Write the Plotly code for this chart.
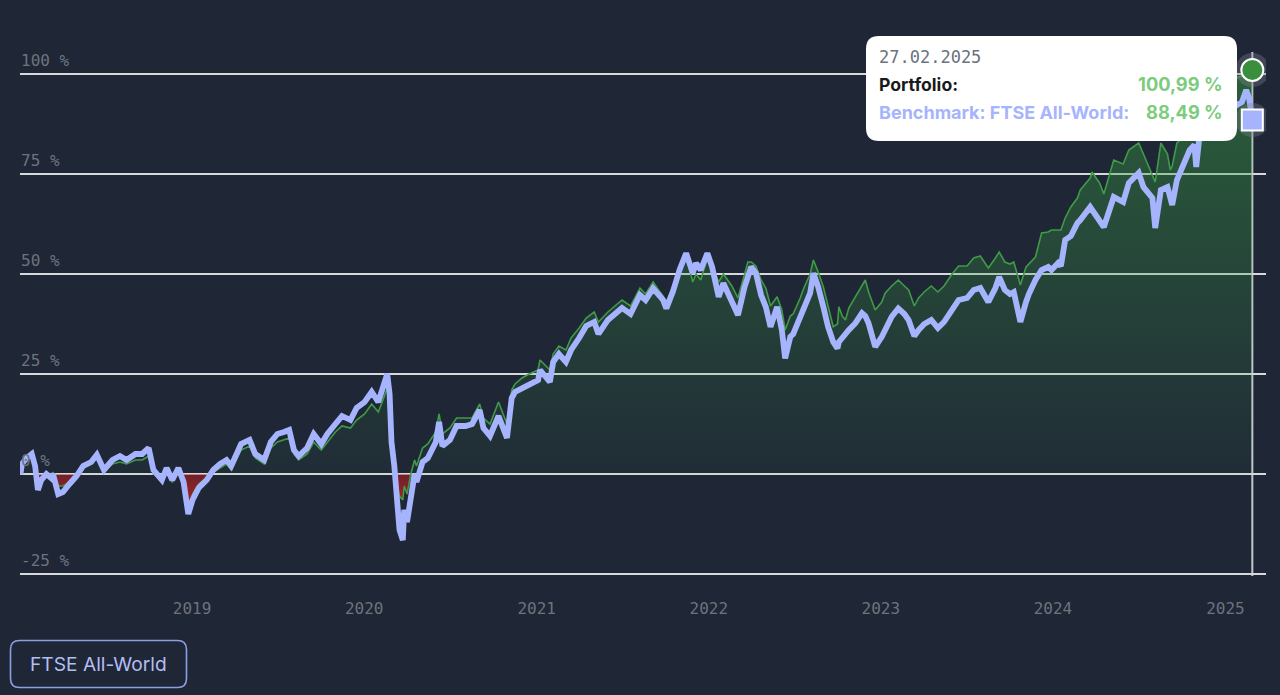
import datetime as dt
import plotly.graph_objects as go

# ---------------- data ----------------
dates = [
    "2018-01-02", "2018-01-05", "2018-01-15", "2018-01-26", "2018-02-02", "2018-02-08", "2018-02-15",
    "2018-02-26", "2018-03-08", "2018-03-12", "2018-03-23", "2018-04-02", "2018-04-16", "2018-05-01",
    "2018-05-15", "2018-06-01", "2018-06-13", "2018-06-28", "2018-07-16", "2018-08-01", "2018-08-15",
    "2018-09-03", "2018-09-17", "2018-10-01", "2018-10-11", "2018-10-29", "2018-11-08", "2018-11-20",
    "2018-12-03", "2018-12-14", "2018-12-24",
    "2019-01-02", "2019-01-15", "2019-02-01", "2019-02-15", "2019-03-01", "2019-03-15", "2019-03-25",
    "2019-04-15", "2019-05-03", "2019-05-15", "2019-06-03", "2019-06-17", "2019-07-01", "2019-07-15",
    "2019-07-26", "2019-08-05", "2019-08-15", "2019-09-02", "2019-09-16", "2019-10-02", "2019-10-15",
    "2019-11-01", "2019-11-15", "2019-12-03", "2019-12-16",
    "2020-01-02", "2020-01-17", "2020-01-31", "2020-02-10", "2020-02-19", "2020-02-24", "2020-02-28",
    "2020-03-05", "2020-03-09", "2020-03-12", "2020-03-16", "2020-03-23", "2020-03-26", "2020-04-01",
    "2020-04-09", "2020-04-17", "2020-04-21", "2020-05-04", "2020-05-15", "2020-06-01", "2020-06-08",
    "2020-06-15", "2020-07-01", "2020-07-15", "2020-08-03", "2020-08-17", "2020-09-02", "2020-09-10",
    "2020-09-24", "2020-10-12", "2020-10-30", "2020-11-09", "2020-11-16", "2020-12-01", "2020-12-16",
    "2021-01-04", "2021-01-08", "2021-01-29", "2021-02-05", "2021-02-17", "2021-03-04", "2021-03-15",
    "2021-04-01", "2021-04-16", "2021-05-03", "2021-05-12", "2021-06-01", "2021-06-15", "2021-07-01",
    "2021-07-19", "2021-08-08", "2021-08-20", "2021-09-05", "2021-09-19", "2021-09-26", "2021-10-03",
    "2021-10-17", "2021-10-31", "2021-11-14", "2021-11-28", "2021-12-05", "2021-12-15", "2021-12-29",
    "2022-01-08", "2022-01-22", "2022-02-01", "2022-02-19", "2022-03-04", "2022-03-18", "2022-03-25",
    "2022-04-01", "2022-04-11", "2022-04-22", "2022-05-02", "2022-05-12", "2022-05-26", "2022-06-05",
    "2022-06-12", "2022-06-23", "2022-06-29", "2022-07-14", "2022-07-20", "2022-08-04", "2022-08-11",
    "2022-08-21", "2022-09-01", "2022-09-11", "2022-09-22", "2022-10-01", "2022-10-04", "2022-10-11",
    "2022-10-18", "2022-10-25", "2022-11-08", "2022-11-22", "2022-11-29", "2022-12-06", "2022-12-20",
    "2023-01-03", "2023-01-10", "2023-01-24", "2023-02-07", "2023-02-20", "2023-03-01", "2023-03-13",
    "2023-03-22", "2023-04-03", "2023-04-18", "2023-05-02", "2023-05-15", "2023-06-01", "2023-06-15",
    "2023-07-03", "2023-07-17", "2023-07-31", "2023-08-17", "2023-09-01", "2023-09-09", "2023-09-21",
    "2023-10-02", "2023-10-10", "2023-10-24", "2023-11-05", "2023-11-11", "2023-11-25", "2023-12-08",
    "2023-12-22", "2023-12-29",
    "2024-01-12", "2024-01-18", "2024-01-27", "2024-02-08", "2024-02-22", "2024-02-28", "2024-03-20",
    "2024-03-24", "2024-04-09", "2024-04-18", "2024-05-09", "2024-05-29", "2024-06-10", "2024-07-01",
    "2024-07-11", "2024-07-30", "2024-08-05", "2024-08-17", "2024-08-31", "2024-09-06", "2024-09-10",
    "2024-09-20", "2024-10-02", "2024-10-17", "2024-10-27", "2024-10-31", "2024-11-06", "2024-11-20",
    "2024-12-06", "2024-12-20",
    "2025-01-06", "2025-01-22", "2025-02-05", "2025-02-14", "2025-02-20", "2025-02-27",
]

benchmark = [
    0, 2.5, 4, 5, 2, -4, -1.5,
    0, -1, 0, -5, -4.5, -2.5, -0.5,
    2, 3, 4.8, 1, 3.5, 4.5, 3.5,
    5, 5, 6.5, 1, -1.5, 1.5, -1.5,
    1.5, -2, -10,
    -6.5, -3.5, -1.5, 1, 2.5, 3.5, 2,
    7.5, 8.5, 5, 3.5, 8, 10, 10.5,
    11, 6, 4.5, 6.5, 10, 7.5, 10,
    12.5, 14.5, 13.5, 16.5,
    18, 20.5, 18, 21.5, 25, 20, 8,
    2, -6, -12, -14, -16.5, -9, -12,
    -5, 0, -2, 3, 4, 8, 13,
    7, 8.5, 12, 12, 12.5, 16, 11.5,
    9.5, 14.5, 9, 19, 20.5, 21.5, 22.5,
    23.5, 26, 23, 28, 30, 28, 31,
    34, 37, 38, 35, 38.5, 40, 41.5,
    40, 44.75, 43.5, 46.4, 44.5, 43.5, 41.4,
    45.6, 51, 55.2, 50.2, 52.7, 51, 55.2,
    51.8, 44.3, 47.7, 43.5, 39.75, 46.8, 50,
    51.8, 50.2, 44.75, 41.8, 36.8, 41.8, 36,
    28.9, 34.3, 35, 39.3, 41, 45.2, 50.2,
    46.8, 41.8, 36.8, 33, 31.4, 33, 34.3,
    35, 36, 37.7, 40.2, 39.5, 37.7, 31.8,
    34.3, 36, 39.3, 41.4, 40, 38.5, 34.5,
    36, 37.5, 38.5, 36.5, 38, 41, 43.5,
    44, 46, 46.5, 43, 46.5, 49.25, 46,
    45, 45.5, 38, 43, 45, 48.5, 51,
    51.75, 51,
    52.75, 52, 58.5, 59.5, 62.75, 63.5, 66.75,
    66, 63.5, 61.75, 69.25, 68, 72.75, 75.25,
    71.75, 69, 61.5, 71, 71.75, 68.5, 67.25,
    73.5, 76.75, 81, 82.25, 76.75, 83.5, 85,
    91, 87,
    89, 92, 93, 96, 94, 88.49,
]

portfolio = [
    0, 2, 3.5, 4.5, 2, -2.5, -1,
    0.5, -0.5, 0.5, -3, -3, -2, -0.5,
    1.5, 2.5, 4, 0.5, 2.5, 3, 2.5,
    3.5, 3.5, 4.5, 0, -1.5, 0.5, -2,
    0.5, -2.5, -8,
    -5, -2.5, -1, 0.5, 1.5, 2.5, 1,
    6, 7, 4, 2.5, 6.5, 8, 8.5,
    9, 5, 3.5, 5, 8, 6, 8,
    10.5, 12, 11.5, 13.5,
    15, 17.5, 15.5, 18.5, 21.5, 16.5, 8,
    4, -1, -4, -5.5, -6.5, -3, -5,
    0, 3.5, 2, 6.5, 7.5, 10.5, 15,
    10, 11.5, 14, 14, 14, 17.5, 14,
    12.5, 18, 12.5, 21, 22.5, 24, 25,
    26, 28.5, 26, 30, 32, 31, 34,
    36.5, 39, 40.5, 38, 40.5, 42, 43.5,
    42, 46.5, 45, 48, 45.6, 44.5, 43,
    47, 51.8, 54.75, 48, 50, 48.5, 54,
    52, 48, 50, 47, 44, 50.5, 53,
    53, 52, 48.5, 46.5, 42, 44.3, 41,
    36, 39.5, 40, 44, 46, 50, 53.5,
    50.5, 46.8, 42, 36.8, 37.5, 41.8, 39.5,
    38.5, 41.5, 44.3, 47, 48.5, 45.5, 41,
    43, 45.2, 47, 48.5, 47, 46, 42,
    44, 45.5, 47, 45.5, 47, 50, 52,
    52, 54, 54.5, 51.5, 54, 55.5, 53,
    52.5, 53, 47.25, 51.75, 52.5, 54.25, 60.25,
    60.5, 61,
    61, 61, 64, 66.75, 69, 71, 74,
    75.5, 72.75, 70, 78.5, 77.5, 81, 82.75,
    80, 75, 73, 82.75, 80, 76, 77,
    82.75, 84, 86.5, 88, 84, 90, 92,
    97, 94,
    96, 99, 99.5, 102, 101.5, 100.99,
]

y_ticks = [-25, 0, 25, 50, 75, 100]
y_tick_labels = [f"{v} %" for v in y_ticks]
x_tick_dates = ["2019-01-01", "2020-01-01", "2021-01-01", "2022-01-01",
                "2023-01-01", "2024-01-01", "2025-01-01"]
x_tick_labels = ["2019", "2020", "2021", "2022", "2023", "2024", "2025"]

portfolio_name = "Portfolio"
benchmark_name = "FTSE All-World"

# ---------------- styling ----------------
BG = "#1f2636"
GRID = "#d6d8dc"
TICK_FONT = dict(family="DejaVu Sans Mono", size=16, color="#6e737d")
GREEN_LINE = "#3f9b45"
LAVENDER = "#a5b4fc"
VALUE_GREEN = "#7dcb7d"

hover_date = dates[-1]
hover_p = portfolio[-1]
hover_b = benchmark[-1]


def fmt_pct(v):
    return f"{v:.2f}".replace(".", ",") + " %"


def rounded_rect(w, h, r):
    x0, x1, y0, y1 = -w / 2, w / 2, -h / 2, h / 2
    return (f"M {x0 + r},{y0} L {x1 - r},{y0} Q {x1},{y0} {x1},{y0 + r} "
            f"L {x1},{y1 - r} Q {x1},{y1} {x1 - r},{y1} L {x0 + r},{y1} "
            f"Q {x0},{y1} {x0},{y1 - r} L {x0},{y0 + r} Q {x0},{y0} {x0 + r},{y0} Z")


pos_part = [max(v, 0) for v in portfolio]
neg_part = [min(v, 0) for v in portfolio]

fig = go.Figure()

fig.add_trace(go.Scatter(
    x=dates, y=pos_part, mode="lines", line=dict(width=0, color=GREEN_LINE),
    fill="tozeroy",
    fillgradient=dict(type="vertical", start=0, stop=max(portfolio),
                      colorscale=[[0, "rgba(56,160,64,0.05)"], [1, "rgba(56,160,64,0.47)"]]),
    hoverinfo="skip", showlegend=False))

fig.add_trace(go.Scatter(
    x=dates, y=neg_part, mode="lines", line=dict(width=0, color="#c02424"),
    fill="tozeroy",
    fillgradient=dict(type="vertical", start=min(portfolio), stop=0,
                      colorscale=[[0, "rgba(200,30,30,0.85)"], [1, "rgba(200,30,30,0.45)"]]),
    hoverinfo="skip", showlegend=False))

fig.add_trace(go.Scatter(
    x=dates, y=portfolio, mode="lines", name=portfolio_name,
    line=dict(width=1.6, color=GREEN_LINE), showlegend=False))

fig.add_trace(go.Scatter(
    x=dates, y=benchmark, mode="lines", name="Benchmark: " + benchmark_name,
    line=dict(width=5.8, color=LAVENDER), showlegend=False))

# hover markers (halo + marker)
fig.add_trace(go.Scatter(
    x=[hover_date, hover_date], y=[hover_p, hover_b], mode="markers",
    marker=dict(size=34, color="rgba(130,132,145,0.35)", line=dict(width=0)),
    hoverinfo="skip", showlegend=False))
fig.add_trace(go.Scatter(
    x=[hover_date], y=[hover_p], mode="markers",
    marker=dict(size=22, color="#3a8f3e", symbol="circle", line=dict(width=2, color="white")),
    hoverinfo="skip", showlegend=False))
fig.add_trace(go.Scatter(
    x=[hover_date], y=[hover_b], mode="markers",
    marker=dict(size=21, color=LAVENDER, symbol="square", line=dict(width=2, color="white")),
    hoverinfo="skip", showlegend=False))

# geometry of plot area (pixels): 4 px per percentage point, 0 % at y=474
W, H = 1280, 695
L, R, T, B = 20, 14, 40, 119
PW, PH = W - L - R, H - T - B
Y_MIN, Y_MAX = -25.5, 108.5


def px_to_paper(px, py):
    return (px - L) / PW, (H - B - py) / PH


shapes = []
# hover spike line (beneath the fill)
_, spike_top = px_to_paper(0, 52)
shapes.append(dict(type="line", xref="x", yref="paper", x0=hover_date, x1=hover_date,
                   y0=0, y1=spike_top, line=dict(color="rgba(225,228,232,0.85)", width=2),
                   layer="below"))

# tooltip box
tx, ty = px_to_paper(1051.5, 88.5)
shapes.append(dict(type="path", xref="paper", yref="paper", xsizemode="pixel", ysizemode="pixel",
                   xanchor=tx, yanchor=ty, path=rounded_rect(371, 105, 13),
                   fillcolor="white", line=dict(width=0), layer="above"))

# button box
bx, by = px_to_paper(98.5, 664)
shapes.append(dict(type="path", xref="paper", yref="paper", xsizemode="pixel", ysizemode="pixel",
                   xanchor=bx, yanchor=by, path=rounded_rect(176, 47, 9),
                   fillcolor="rgba(0,0,0,0)", line=dict(width=1.6, color="#8d9de6"), layer="above"))

annotations = []
lx, _ = px_to_paper(877, 0)
rx, _ = px_to_paper(1225, 0)
_, y_date = px_to_paper(0, 57)
_, y_port = px_to_paper(0, 84)
_, y_bench = px_to_paper(0, 112)
date_label = dt.datetime.strptime(hover_date, "%Y-%m-%d").strftime("%d.%m.%Y")

annotations.append(dict(text=date_label, x=lx, y=y_date, xref="paper", yref="paper",
                        xanchor="left", yanchor="middle", showarrow=False,
                        font=dict(family="DejaVu Sans Mono", size=17, color="#6b7280")))
annotations.append(dict(text=f"<b>{portfolio_name}:</b>", x=lx, y=y_port, xref="paper", yref="paper",
                        xanchor="left", yanchor="middle", showarrow=False,
                        font=dict(family="Inter", size=17.6, color="#1a1a1a")))
annotations.append(dict(text=f"<b>{fmt_pct(hover_p)}</b>", x=rx, y=y_port, xref="paper", yref="paper",
                        xanchor="right", yanchor="middle", showarrow=False,
                        font=dict(family="Inter", size=18.3, color=VALUE_GREEN)))
annotations.append(dict(text=f"<b>Benchmark: {benchmark_name}:</b>", x=lx, y=y_bench, xref="paper",
                        yref="paper", xanchor="left", yanchor="middle", showarrow=False,
                        font=dict(family="Inter", size=18, color=LAVENDER)))
annotations.append(dict(text=f"<b>{fmt_pct(hover_b)}</b>", x=rx, y=y_bench, xref="paper", yref="paper",
                        xanchor="right", yanchor="middle", showarrow=False,
                        font=dict(family="Inter", size=18.3, color=VALUE_GREEN)))
annotations.append(dict(text=benchmark_name, x=bx, y=by, xref="paper", yref="paper",
                        xanchor="center", yanchor="middle", showarrow=False,
                        font=dict(family="Inter", size=19.2, color="#b3bef3")))

fig.update_layout(
    width=W, height=H,
    margin=dict(l=L, r=R, t=T, b=B, pad=0),
    paper_bgcolor=BG, plot_bgcolor=BG,
    showlegend=False, hovermode=False,
    shapes=shapes, annotations=annotations,
    xaxis=dict(type="date", range=["2018-01-01", "2025-03-28"],
               tickvals=x_tick_dates, ticktext=x_tick_labels,
               showgrid=False, zeroline=False, showline=False,
               ticks="outside", ticklen=18, tickcolor="rgba(0,0,0,0)",
               tickfont=TICK_FONT, fixedrange=True),
    yaxis=dict(range=[Y_MIN, Y_MAX], tickvals=y_ticks, ticktext=y_tick_labels,
               ticklabelposition="inside top", ticklabelshift=-2, ticklabelstandoff=-2,
               showgrid=True, gridcolor=GRID, gridwidth=2,
               zeroline=False, showline=False, ticks="", tickfont=TICK_FONT, fixedrange=True),
)

fig.write_html("out.html", config={"displayModeBar": False})
